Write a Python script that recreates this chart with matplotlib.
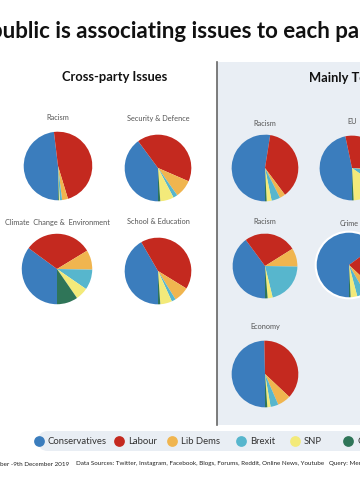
import matplotlib.pyplot as plt
from matplotlib.patches import Rectangle, FancyBboxPatch

plt.rcParams['font.family'] = ['Lato', 'DejaVu Sans']

# parties, in the order the wedges run (clockwise from 6 o'clock)
parties = ['Conservatives', 'Labour', 'Lib Dems', 'Brexit', 'SNP', 'Green']
colors = ['#3b7dbd', '#c4291f', '#f0b54f', '#57b6cd', '#f3ea7a', '#2f7558']

# share of mentions per issue (%), same order as parties
cross_titles = ['Racism', 'Security & Defence', 'Climate  Change &  Environment', 'School & Education']
cross_values = [
    [48.1, 47.2, 2.8, 1.1, 0.4, 0.4],
    [39.9, 41.7, 8.7, 2.1, 6.6, 1.1],
    [35.1, 31.2, 9.0, 9.3, 5.8, 9.6],
    [41.6, 42.1, 7.4, 2.0, 5.7, 1.1],
]
tory_titles = ['Racism', 'EU', 'Racism', 'Crime', 'Economy']
tory_values = [
    [52.5, 37.3, 2.8, 4.2, 2.4, 0.8],
    [46.7, 29.2, 1.1, 7.8, 14.4, 0.8],
    [39.9, 26.2, 9.2, 20.9, 2.5, 1.3],
    [64.6, 22.0, 4.7, 4.2, 3.3, 0.8],
    [49.7, 37.4, 6.5, 3.8, 1.6, 1.1],
]

W, H = 360, 500
fig = plt.figure(figsize=(W / 100, H / 100), dpi=100)
fig.patch.set_facecolor('white')

# background axes in pixel coordinates
bg = fig.add_axes([0, 0, 1, 1])
bg.set_xlim(0, W)
bg.set_ylim(H, 0)
bg.axis('off')

bg.add_patch(Rectangle((217, 62), 160, 363, facecolor='#e9eef4', edgecolor='none'))
bg.plot([217, 217], [62, 425], color='#666666', lw=1.2)

bg.text(-10, 31, 'public is associating issues to each party', fontsize=16,
        fontweight='bold', color='#111111', va='center', ha='left')
bg.text(115, 77, 'Cross-party Issues', fontsize=9.3, fontweight='bold',
        color='#111111', ha='center', va='center')
bg.text(309, 78, 'Mainly Tory Issues', fontsize=9.3, fontweight='bold',
        color='#111111', ha='left', va='center')


def draw_pie(cx, cy, r, vals, title, ty, outline=False):
    ax = fig.add_axes([(cx - r) / W, 1 - (cy + r) / H, 2 * r / W, 2 * r / H])
    ax.pie(vals, colors=colors, startangle=-90, counterclock=False,
           wedgeprops=dict(linewidth=0))
    if outline:
        ax.add_patch(plt.Circle((0, 0), 1.0, fill=False, ec='white', lw=1.5))
    ax.set_xlim(-1.05, 1.05)
    ax.set_ylim(-1.05, 1.05)
    ax.set_aspect('equal')
    ax.axis('off')
    bg.text(cx, ty, title, fontsize=5.3, color='#555555', ha='center', va='center')


# left panel
cross_pos = [(58, 166, 36, 117), (158, 168, 35, 118), (57, 269, 37, 222), (158, 271, 35, 222)]
for (cx, cy, r, ty), vals, t in zip(cross_pos, cross_values, cross_titles):
    draw_pie(cx, cy, r, vals, t, ty)

# right panel
tory_pos = [(265, 168, 35, 123), (352, 168, 34, 122), (265, 266, 34, 221),
            (349, 265, 35, 224), (265, 374, 35, 327)]
for (cx, cy, r, ty), vals, t in zip(tory_pos, tory_values, tory_titles):
    draw_pie(cx, cy, r, vals, t, ty, outline=(t == 'Crime'))

# legend strip
bg.add_patch(FancyBboxPatch((38, 431), 340, 20, boxstyle='round,pad=0,rounding_size=10',
                            facecolor='#e9eef4', edgecolor='none'))
leg_x = [39, 119, 172, 241, 295, 348]
for x, name, c in zip(leg_x, parties, colors):
    bg.scatter([x], [441], s=60, color=c, zorder=5, linewidths=0)
    bg.text(x + 9, 441, name, fontsize=6.8, color='#333333', va='center', ha='left')

# footer
foot = dict(fontsize=4.5, color='#222222', va='center')
bg.text(0, 464, 'ber -9th December 2019', **foot)
bg.text(76, 464, 'Data Sources: Twitter, Instagram, Facebook, Blogs, Forums, Reddit, Online News, Youtube', **foot)
bg.text(329, 464, 'Query: Mentions', **foot)

fig.savefig('out.png', dpi=100)
